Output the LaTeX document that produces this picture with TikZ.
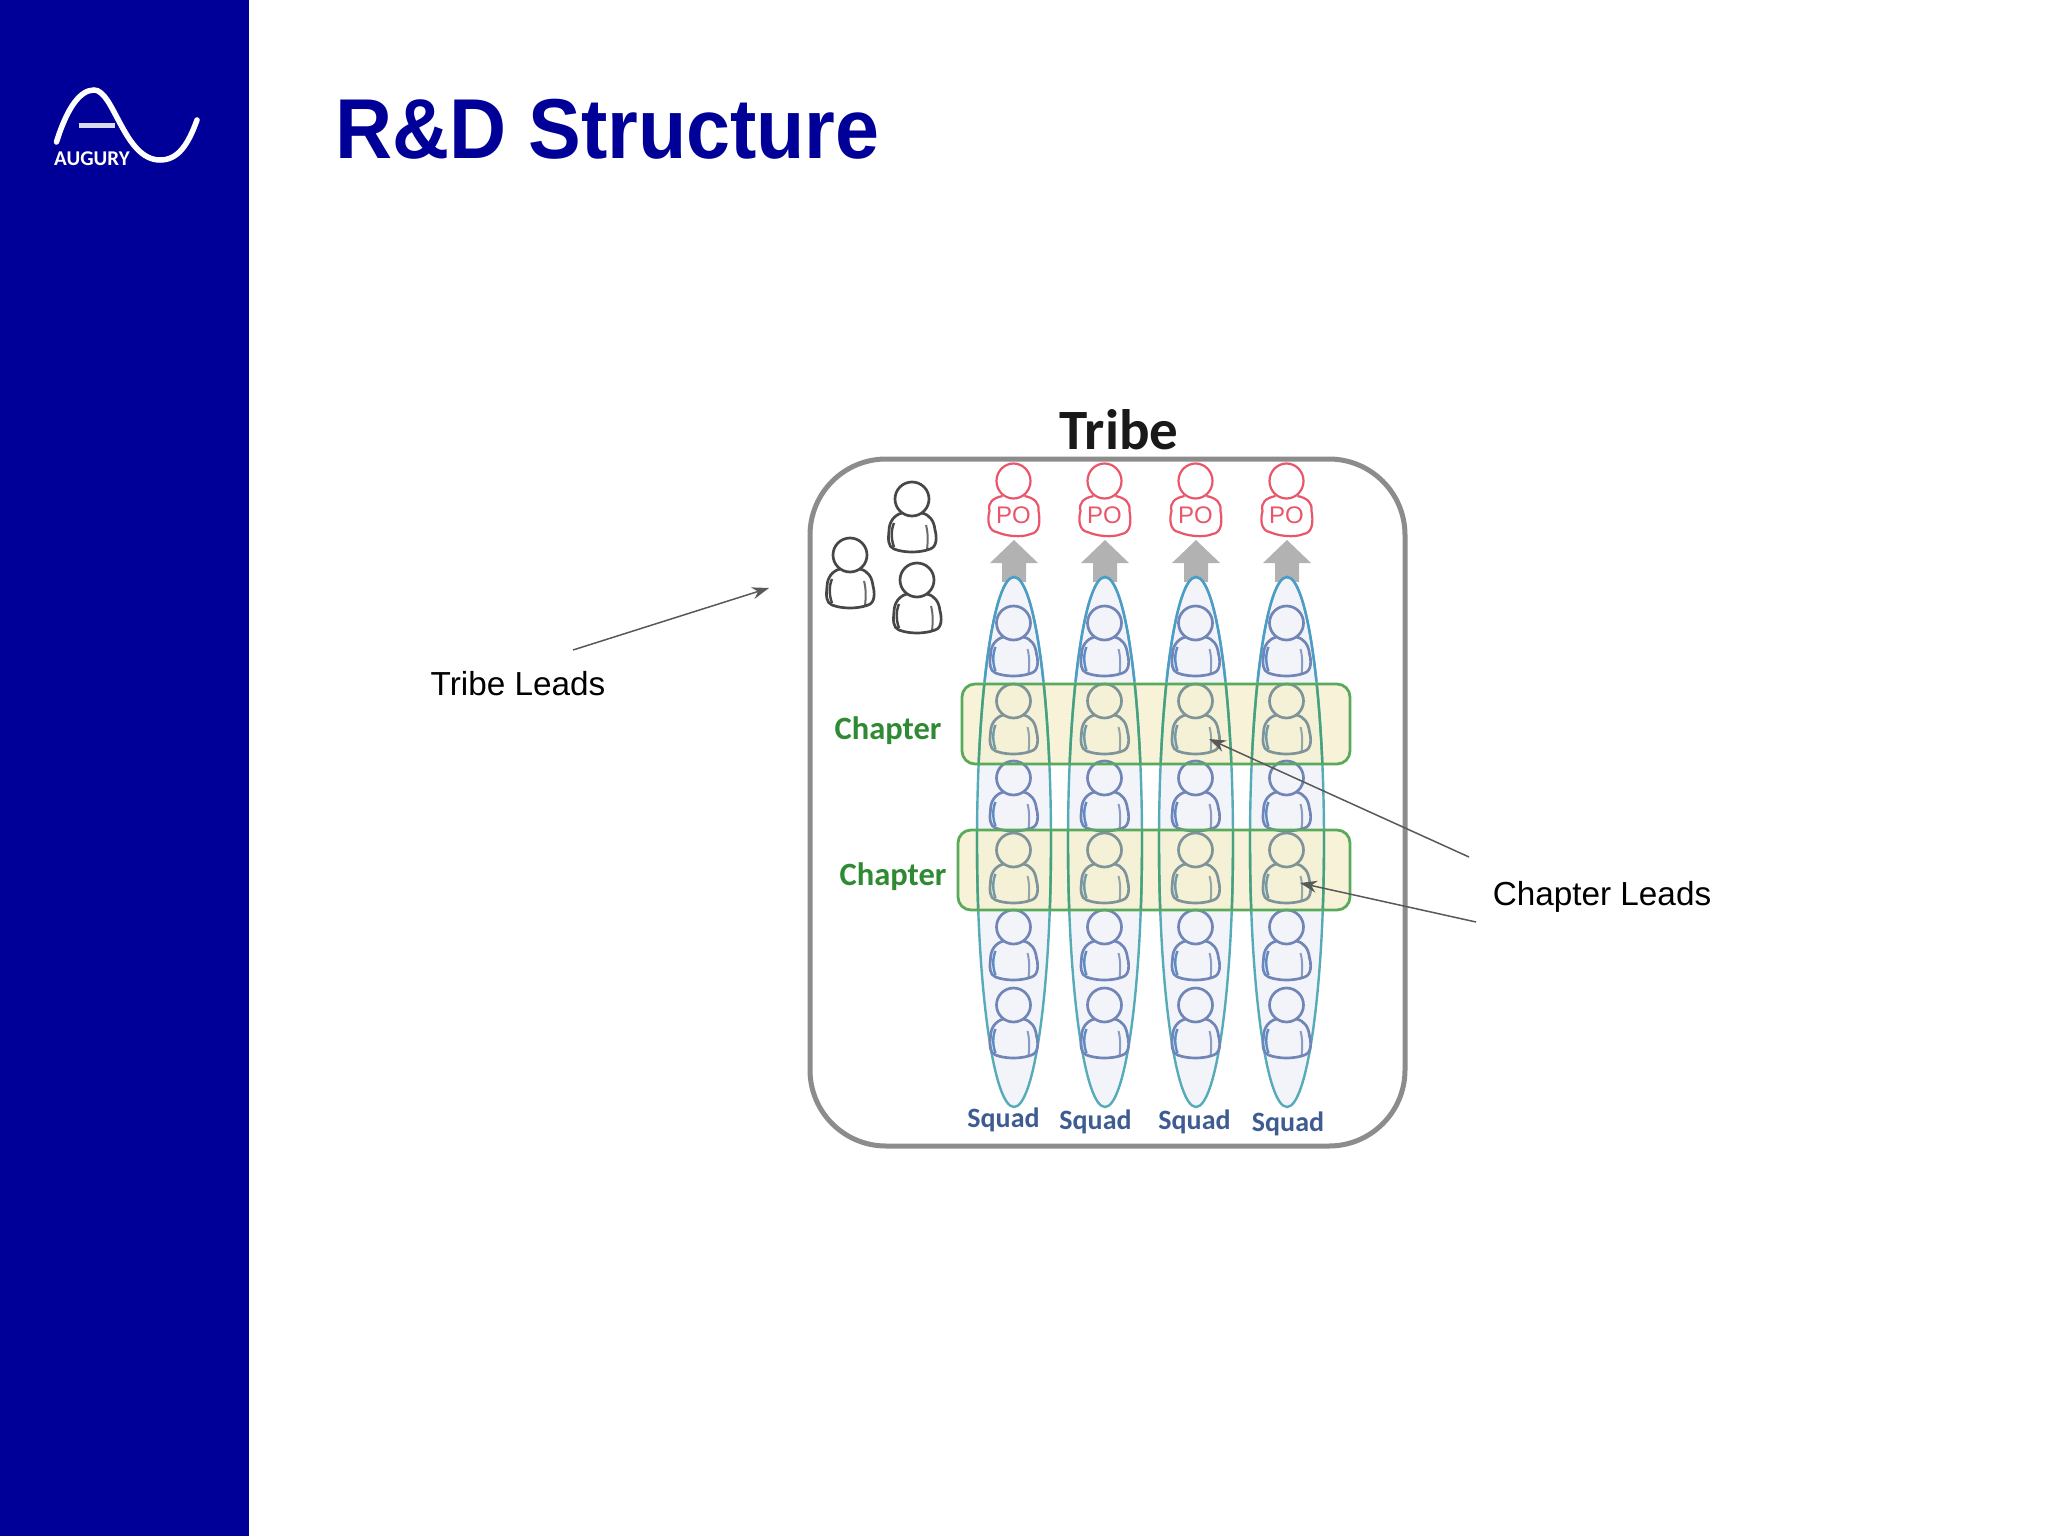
\documentclass[tikz,border=0pt]{standalone}
\usepackage{fontspec}
\setmainfont{Liberation Sans}
\newfontfamily\carlito{Carlito}
\newfontfamily\titlefont[FakeStretch=0.93]{Liberation Sans}
\usetikzlibrary{arrows.meta}
\definecolor{navy}{HTML}{000099}
\definecolor{frame}{HTML}{8C8C8C}
\definecolor{squadline}{HTML}{55ABB8}
\definecolor{squadtop}{HTML}{4B9CC6}
\definecolor{squadband}{HTML}{46A27C}
\definecolor{squadfill}{HTML}{F3F4FA}
\definecolor{chapline}{HTML}{5AAA5C}
\definecolor{chapfill}{HTML}{F6F0CC}
\definecolor{chaptext}{HTML}{2F8B33}
\definecolor{squadtext}{HTML}{3F5C92}
\definecolor{pored}{HTML}{E9566A}
\definecolor{manline}{HTML}{7186B6}
\definecolor{manarm}{HTML}{5C8CC8}
\definecolor{bandman}{HTML}{7F9498}
\definecolor{bandarm}{HTML}{6F9AA8}
\definecolor{leadline}{HTML}{474747}
\definecolor{uparrow}{HTML}{B2B2B2}
\definecolor{callout}{HTML}{595959}
\tikzset{
  pics/person/.style 2 args={code={
    \draw[#1,line width=2.7pt,line join=round] (0,2) ellipse [x radius=17,y radius=17];
    \draw[#1,line width=2.7pt,line join=round]
      (-10,16) .. controls (-18,18) and (-23,25) .. (-23,34)
      .. controls (-24,42) and (-24,50) .. (-18,52)
      .. controls (-8,56) and (8,56) .. (18,52)
      .. controls (25,50) and (25,40) .. (23,33)
      .. controls (22,24) and (18,18) .. (10,16);
    \draw[#2,line width=2.4pt] (-18,26) .. controls (-21,33) and (-21,42) .. (-18,50);
    \draw[#1,line width=2pt,opacity=.8] (14,28) .. controls (16,35) and (16,44) .. (15,53);
  }},
  pics/poperson/.style={code={
    \draw[pored,line width=2.2pt] (0,3) ellipse [x radius=17,y radius=17.5];
    \draw[pored,line width=2.2pt,line join=round]
      (-11,18) .. controls (-21,20) and (-26,25) .. (-24,33)
      .. controls (-27,44) and (-24,53) .. (-17,54)
      .. controls (-8,58) and (8,60) .. (17,56)
      .. controls (26,55) and (27,44) .. (25,33)
      .. controls (26,25) and (21,20) .. (11,18);
  }},
  biglabel/.style={inner sep=0pt,text=black,font=\fontsize{33.3}{36}\selectfont},
  chaplabel/.style={inner sep=0pt,text=chaptext,font=\carlito\bfseries\fontsize{32.5}{36}\selectfont},
  squadlabel/.style={inner sep=0pt,text=squadtext,font=\carlito\bfseries\fontsize{28}{30}\selectfont},
  polabel/.style={inner sep=0pt,text=pored,font=\fontsize{24}{26}\selectfont},
  chapunder/.style={fill=chapfill,fill opacity=.75,rounded corners=13pt},
  chapover/.style={draw=chapline,line width=2.8pt,rounded corners=13pt},
  callarrow/.style={draw=callout,line width=1.5pt,-{Stealth[length=17pt,width=12pt]}},
}
\begin{document}
\begin{tikzpicture}[x=1pt,y=-1pt]
\useasboundingbox (0,0) rectangle (2048,1536);
\fill[white] (0,0) rectangle (2048,1536);
\fill[navy] (0,0) rectangle (249,1536);

% logo
\draw[white,line width=5.5pt,line cap=round]
  (56.5,142) .. controls (67,108) and (80,90) .. (94,90)
  .. controls (114,90) and (124,160) .. (160,160)
  .. controls (178,160) and (188,145) .. (197,120);
\draw[white!85!navy,line width=5pt] (79,126) -- (115,126);
\node[inner sep=0pt,text=white,font=\carlito\bfseries\fontsize{21}{22}\selectfont] (logotext) at (92,158.5) {AUGURY};

% title
\node[inner sep=0pt,anchor=base west,text=navy,font=\titlefont\bfseries\fontsize{85}{90}\selectfont] (title) at (335,158) {R\&D Structure};

% tribe frame
\node[inner sep=0pt,text=black!90,font=\carlito\bfseries\fontsize{57}{60}\selectfont] (tribe) at (1119,430) {Tribe};
\draw[frame,line width=5pt,rounded corners=76pt] (810,459) rectangle (1405,1146);

% tribe leads
\pic at (912,497) {person={leadline}{leadline}};
\pic at (850,553) {person={leadline}{leadline}};
\pic at (917,578) {person={leadline}{leadline}};

% squad bodies and chapter bands under the people
\foreach \cx in {1014,1105,1196,1287}{
  \fill[uparrow] (\cx,540) -- (\cx+24,563) -- (\cx+12,563) -- (\cx+12,582) -- (\cx-12,582) -- (\cx-12,563) -- (\cx-24,563) -- cycle;
  \fill[squadfill] (\cx,842) ellipse [x radius=37,y radius=265];
}
\fill[chapunder] (962,684) rectangle (1350,764);
\fill[chapunder] (958,830) rectangle (1350,910);

% squad columns
\foreach \i/\cx/\sx/\sy in {1/1014/1003.5/1120,2/1105/1095.5/1122,3/1196/1194.5/1122,4/1287/1288/1124}{
  \draw[squadline,line width=2.4pt] (\cx,842) ellipse [x radius=37,y radius=265];
  \begin{scope}
    \clip (\cx-45,570) rectangle (\cx+45,680);
    \draw[squadtop,line width=2.4pt] (\cx,842) ellipse [x radius=37,y radius=265];
  \end{scope}
  \begin{scope}
    \clip (\cx-45,684) rectangle (\cx+45,764) (\cx-45,830) rectangle (\cx+45,910);
    \draw[squadband,line width=2.4pt] (\cx,842) ellipse [x radius=37,y radius=265];
  \end{scope}
  \foreach \ry/\mc/\ac in {621/manline/manarm,699/bandman/bandarm,776/manline/manarm,848/bandman/bandarm,925/manline/manarm,1003/manline/manarm}{
    \pic at (\cx-0.5,\ry) {person={\mc}{\ac}};
  }
  \pic at (\cx-0.5,478) {poperson};
  \node[polabel] (po\i) at (\cx-0.5,515) {PO};
  \node[squadlabel] (squad\i) at (\sx,\sy) {Squad};
}

% chapters
\path[chapover] (962,684) rectangle (1350,764);
\path[chapover] (958,830) rectangle (1350,910);
\node[chaplabel] (chapter1) at (888,731) {Chapter};
\node[chaplabel] (chapter2) at (893,877) {Chapter};

% labels and callouts
\node[biglabel] (tribeleads) at (518,684) {Tribe Leads};
\node[biglabel] (chapterleads) at (1602,897) {Chapter Leads};
\coordinate (tltail) at (573,650);
\coordinate (tltip) at (769,588);
\coordinate (cltailA) at (1469,857);
\coordinate (cltipA) at (1209,739);
\coordinate (cltailB) at (1476,922);
\coordinate (cltipB) at (1300,883);
\draw[callarrow] (tltail) -- (tltip);
\draw[callarrow] (cltailA) -- (cltipA);
\draw[callarrow] (cltailB) -- (cltipB);
\end{tikzpicture}
\end{document}
